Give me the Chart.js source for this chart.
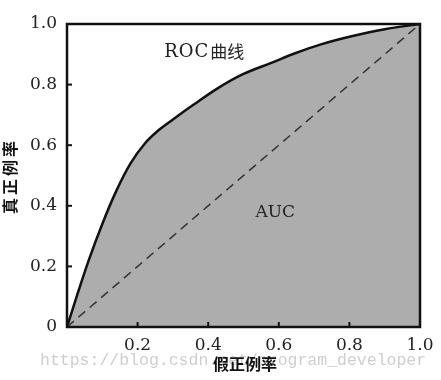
<!DOCTYPE html>
<html>
<head>
<meta charset="utf-8">
<script src="https://cdn.jsdelivr.net/npm/chart.js@4.4.1/dist/chart.umd.min.js"></script>
<style>
  html, body { margin: 0; padding: 0; background: #fff; }
  #wrap { width: 441px; height: 380px; }
</style>
</head>
<body>
<div id="wrap"><canvas id="roc"></canvas></div>
<script>
// ROC curve
const fpr = [0, 0.03, 0.06, 0.10, 0.14, 0.18, 0.22, 0.26, 0.30, 0.36, 0.43, 0.50, 0.575, 0.65, 0.717, 0.80, 0.90, 1];
const tpr = [0, 0.11, 0.215, 0.34, 0.45, 0.54, 0.605, 0.65, 0.685, 0.735, 0.79, 0.835, 0.87, 0.905, 0.932, 0.958, 0.983, 1];
const diagX = [0, 1];
const diagY = [0, 1];
const tickValues = [0, 0.2, 0.4, 0.6, 0.8, 1.0];

const serif = '"DejaVu Serif", "Liberation Serif", serif';
const cjk = '"Noto Sans CJK SC", sans-serif';

const rocPoints = fpr.map((x, i) => ({ x: x, y: tpr[i] }));
const diagPoints = diagX.map((x, i) => ({ x: x, y: diagY[i] }));

// frame, inward ticks and the text labels
const decorations = {
    id: 'decorations',
    afterDraw(chart) {
        const ctx = chart.ctx;
        const xs = chart.scales.x, ys = chart.scales.y;
        const a = chart.chartArea;
        ctx.save();

        // ticks pointing into the plot
        ctx.strokeStyle = '#111';
        ctx.lineWidth = 2;
        tickValues.forEach(v => {
            const px = xs.getPixelForValue(v);
            ctx.beginPath(); ctx.moveTo(px, a.bottom); ctx.lineTo(px, a.bottom - 5); ctx.stroke();
            const py = ys.getPixelForValue(v);
            ctx.beginPath(); ctx.moveTo(a.left, py); ctx.lineTo(a.left + 5, py); ctx.stroke();
        });

        // frame
        ctx.lineWidth = 2.5;
        ctx.strokeRect(a.left, a.top, a.right - a.left, a.bottom - a.top);

        // labels inside the plot
        ctx.fillStyle = '#222';
        ctx.textBaseline = 'middle';
        const lx = xs.getPixelForValue(0.403), ly = ys.getPixelForValue(0.908);
        ctx.textAlign = 'right';
        ctx.font = '18px ' + serif;
        ctx.letterSpacing = '1px';
        ctx.fillText('ROC', lx, ly);
        ctx.letterSpacing = '0px';
        ctx.textAlign = 'left';
        ctx.font = '17px ' + cjk;
        ctx.fillText('曲线', lx + 1, ly);
        ctx.textAlign = 'center';
        ctx.font = '17px ' + serif;
        ctx.fillText('AUC', xs.getPixelForValue(0.59), ys.getPixelForValue(0.376));

        // watermark
        ctx.fillStyle = 'rgba(190,190,190,0.75)';
        ctx.font = '16.5px "Liberation Mono", monospace';
        ctx.textAlign = 'left';
        ctx.fillText('https://blog.csdn.net/program_developer', 40, 361);

        // axis titles
        ctx.fillStyle = '#111';
        ctx.textAlign = 'center';
        ctx.font = 'bold 16px ' + cjk;
        ctx.fillText('假正例率', 245, 364);

        const yChars = ['真', '正', '例', '率'];
        const yCenters = [206, 187, 168, 149];
        yChars.forEach((c, i) => {
            ctx.save();
            ctx.translate(10, yCenters[i]);
            ctx.rotate(-Math.PI / 2);
            ctx.fillText(c, 0, 0);
            ctx.restore();
        });

        ctx.restore();
    }
};

new Chart(document.getElementById('roc'), {
    type: 'line',
    data: {
        datasets: [{
            label: 'ROC',
            data: rocPoints,
            borderColor: '#111',
            borderWidth: 2.5,
            backgroundColor: '#adadad',
            fill: 'origin',
            pointRadius: 0,
            cubicInterpolationMode: 'monotone',
            order: 2
        }, {
            label: 'random',
            data: diagPoints,
            borderColor: '#333',
            borderWidth: 1.5,
            borderDash: [9, 6],
            fill: false,
            pointRadius: 0,
            order: 1
        }]
    },
    options: {
        responsive: true,
        maintainAspectRatio: false,
        animation: false,
        layout: { padding: { top: 24, right: 21, left: 0, bottom: 0 } },
        plugins: { legend: { display: false }, tooltip: { enabled: false } },
        scales: {
            x: {
                type: 'linear', min: 0, max: 1,
                grid: { display: false },
                border: { display: false },
                afterBuildTicks: s => { s.ticks = tickValues.map(v => ({ value: v })); },
                afterFit: s => { s.height = 53; },
                ticks: {
                    color: '#222',
                    font: { family: serif, size: 17 },
                    padding: 0,
                    callback: v => v === 0 ? '' : v.toFixed(1)
                }
            },
            y: {
                type: 'linear', min: 0, max: 1,
                grid: { display: false },
                border: { display: false },
                afterBuildTicks: s => { s.ticks = tickValues.map(v => ({ value: v })); },
                afterFit: s => { s.width = 67; },
                ticks: {
                    color: '#222',
                    font: { family: serif, size: 17 },
                    padding: 2,
                    callback: v => v === 0 ? '0' : v.toFixed(1)
                }
            }
        }
    },
    plugins: [decorations]
});
</script>
</body>
</html>
